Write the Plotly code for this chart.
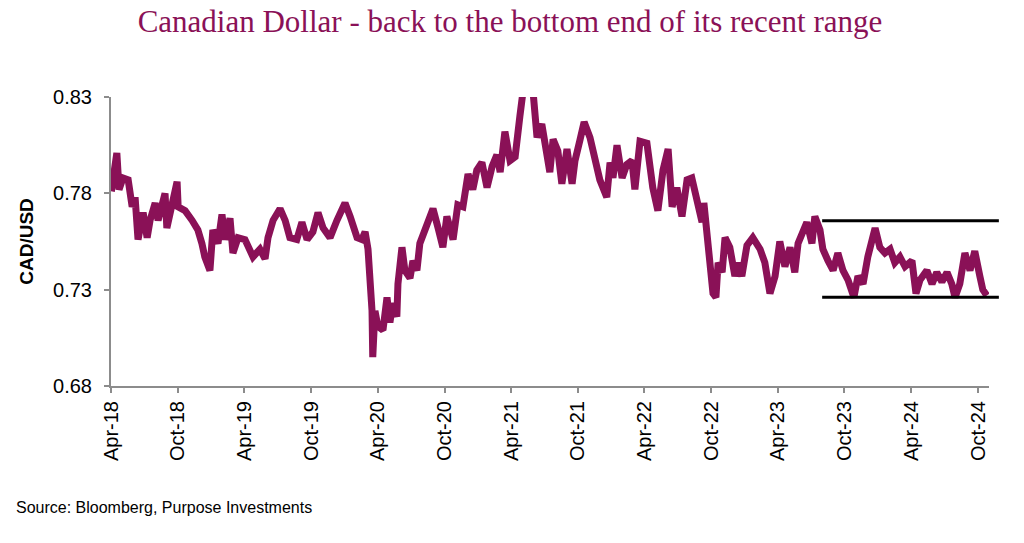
import plotly.graph_objects as go
import pandas as pd

dates = [
    "2018-04-02", "2018-04-09", "2018-04-17", "2018-04-23", "2018-05-04", "2018-05-18", "2018-05-29",
    "2018-06-06", "2018-06-14", "2018-06-28", "2018-07-09", "2018-07-17", "2018-07-31", "2018-08-08",
    "2018-08-27", "2018-09-01", "2018-09-15", "2018-09-29", "2018-10-02", "2018-10-21", "2018-11-09",
    "2018-11-25", "2018-12-06", "2018-12-14", "2018-12-28", "2019-01-05", "2019-01-19", "2019-01-30",
    "2019-02-07", "2019-02-21", "2019-03-01", "2019-03-15", "2019-04-03", "2019-04-08", "2019-04-25",
    "2019-05-14", "2019-05-28", "2019-06-05", "2019-06-19", "2019-07-08", "2019-07-22", "2019-08-04",
    "2019-08-23", "2019-09-06", "2019-09-20", "2019-10-06", "2019-10-20", "2019-11-03", "2019-11-22",
    "2019-12-11", "2020-01-02", "2020-01-16", "2020-02-04", "2020-02-17", "2020-02-26", "2020-03-05",
    "2020-03-10", "2020-03-16", "2020-03-18", "2020-03-24", "2020-04-01", "2020-04-15", "2020-04-26",
    "2020-05-04", "2020-05-12", "2020-05-23", "2020-05-26", "2020-06-06", "2020-06-14", "2020-06-28",
    "2020-07-06", "2020-07-17", "2020-07-25", "2020-08-08", "2020-08-30", "2020-09-13", "2020-09-26",
    "2020-10-07", "2020-10-24", "2020-11-06", "2020-11-20", "2020-12-04", "2020-12-17", "2020-12-28",
    "2021-01-11", "2021-01-25", "2021-02-08", "2021-02-21", "2021-03-02", "2021-03-15", "2021-03-29",
    "2021-04-12", "2021-04-20", "2021-04-25", "2021-05-03", "2021-05-17", "2021-05-31", "2021-06-11",
    "2021-06-24", "2021-07-03", "2021-07-16", "2021-07-25", "2021-08-07", "2021-08-18", "2021-09-01",
    "2021-09-15", "2021-09-23", "2021-10-07", "2021-10-18", "2021-11-03", "2021-11-17", "2021-11-30",
    "2021-12-19", "2021-12-28", "2022-01-05", "2022-01-16", "2022-01-30", "2022-02-12", "2022-02-26",
    "2022-03-06", "2022-03-20", "2022-04-08", "2022-04-24", "2022-05-08", "2022-05-22", "2022-06-05",
    "2022-06-16", "2022-06-29", "2022-07-13", "2022-07-27", "2022-08-09", "2022-08-23", "2022-09-06",
    "2022-09-11", "2022-09-19", "2022-09-28", "2022-10-06", "2022-10-14", "2022-10-20", "2022-10-31",
    "2022-11-08", "2022-11-21", "2022-12-05", "2022-12-13", "2022-12-24", "2023-01-07", "2023-01-23",
    "2023-02-12", "2023-02-25", "2023-03-11", "2023-03-25", "2023-04-07", "2023-04-21", "2023-05-05",
    "2023-05-18", "2023-05-27", "2023-06-09", "2023-06-20", "2023-07-04", "2023-07-12", "2023-07-26",
    "2023-08-03", "2023-08-17", "2023-08-31", "2023-09-13", "2023-09-27", "2023-10-11", "2023-10-27",
    "2023-11-07", "2023-11-21", "2023-12-04", "2023-12-24", "2024-01-06", "2024-01-20", "2024-02-03",
    "2024-02-16", "2024-03-01", "2024-03-15", "2024-04-03", "2024-04-14", "2024-04-25", "2024-05-14",
    "2024-05-28", "2024-06-10", "2024-06-24", "2024-07-08", "2024-07-21", "2024-07-30", "2024-08-12",
    "2024-08-26", "2024-09-09", "2024-09-22", "2024-10-06", "2024-10-14", "2024-10-25",
]

cad_usd = [
    0.781, 0.790, 0.801, 0.782, 0.788, 0.787, 0.773,
    0.778, 0.756, 0.770, 0.757, 0.766, 0.775, 0.766,
    0.780, 0.762, 0.775, 0.786, 0.773, 0.771, 0.766,
    0.761, 0.754, 0.747, 0.740, 0.761, 0.754, 0.769,
    0.756, 0.767, 0.749, 0.757, 0.756, 0.754, 0.747,
    0.751, 0.746, 0.757, 0.766, 0.772, 0.766, 0.757,
    0.756, 0.765, 0.756, 0.760, 0.770, 0.762, 0.757,
    0.766, 0.775, 0.768, 0.757, 0.756, 0.760, 0.751,
    0.740, 0.719, 0.695, 0.719, 0.711, 0.709, 0.726,
    0.713, 0.723, 0.716, 0.733, 0.752, 0.740, 0.736,
    0.745, 0.740, 0.754, 0.761, 0.772, 0.762, 0.752,
    0.768, 0.756, 0.774, 0.773, 0.790, 0.782, 0.792,
    0.796, 0.783, 0.794, 0.800, 0.791, 0.812, 0.797,
    0.799, 0.818, 0.820, 0.832, 0.834, 0.833, 0.809,
    0.816, 0.804, 0.791, 0.808, 0.802, 0.785, 0.803,
    0.785, 0.797, 0.808, 0.817, 0.809, 0.799, 0.787,
    0.778, 0.796, 0.788, 0.805, 0.788, 0.795, 0.797,
    0.782, 0.807, 0.806, 0.783, 0.771, 0.792, 0.803,
    0.773, 0.783, 0.768, 0.787, 0.788, 0.778, 0.765,
    0.775, 0.762, 0.744, 0.728, 0.726, 0.744, 0.739,
    0.757, 0.752, 0.737, 0.744, 0.737, 0.753, 0.757,
    0.751, 0.744, 0.728, 0.737, 0.755, 0.742, 0.752,
    0.739, 0.754, 0.759, 0.765, 0.754, 0.768, 0.761,
    0.751, 0.745, 0.740, 0.749, 0.740, 0.735, 0.726,
    0.737, 0.733, 0.747, 0.762, 0.752, 0.749, 0.751,
    0.744, 0.747, 0.742, 0.745, 0.728, 0.735, 0.740,
    0.733, 0.739, 0.734, 0.739, 0.733, 0.726, 0.733,
    0.749, 0.740, 0.750, 0.737, 0.730, 0.727,
]

# Recent trading range
range_start = "2023-08-01"
range_end = "2024-11-27"
range_high = 0.7658
range_low = 0.7260

x_range = ["2018-04-01", "2024-10-31"]
y_range = [0.68, 0.83]
y_ticks = [0.68, 0.73, 0.78, 0.83]

title_text = "Canadian Dollar - back to the bottom end of its recent range"
source_text = "Source: Bloomberg, Purpose Investments"

MAROON = "#8A1157"
AXIS_GREY = "#8C8C8C"

fig = go.Figure()
fig.add_trace(go.Scatter(
    x=pd.to_datetime(dates), y=cad_usd, mode="lines",
    line=dict(color=MAROON, width=7), showlegend=False, hoverinfo="x+y",
))


def paper_x(d):
    t0 = pd.Timestamp(x_range[0])
    t1 = pd.Timestamp(x_range[1])
    return (pd.Timestamp(d) - t0) / (t1 - t0)


for lvl in (range_high, range_low):
    fig.add_shape(type="line", xref="paper", yref="y",
                  x0=paper_x(range_start), x1=paper_x(range_end), y0=lvl, y1=lvl,
                  line=dict(color="black", width=3), layer="above")

fig.add_annotation(text=source_text, xref="paper", yref="paper", x=-0.1105, y=-0.422,
                   xanchor="left", yanchor="middle", showarrow=False,
                   font=dict(family="Liberation Sans, Arial, sans-serif", size=16, color="black"))

fig.update_layout(
    width=1024, height=543,
    margin=dict(l=111, r=35, t=97, b=157),
    paper_bgcolor="white", plot_bgcolor="white",
    font=dict(family="Liberation Sans, Arial, sans-serif", color="black"),
    title=dict(text=title_text, x=0.498, xref="container", xanchor="center",
               y=1 - 21 / 543, yref="container", yanchor="middle",
               font=dict(family="Liberation Serif, Times New Roman, serif", size=31, color=MAROON)),
)

fig.update_xaxes(
    type="date", range=x_range, tick0="2018-04-01", dtick="M6", tickformat="%b-%y",
    tickangle=-90, ticks="outside", ticklen=5, tickwidth=2, tickcolor=AXIS_GREY,
    showline=True, linecolor=AXIS_GREY, linewidth=2, showgrid=False, zeroline=False,
    tickfont=dict(size=20, color="black"),
)
fig.update_yaxes(
    range=y_range, tickvals=y_ticks, tickformat=".2f",
    ticks="outside", ticklen=5, tickwidth=2, tickcolor=AXIS_GREY, ticklabelstandoff=8,
    showline=True, linecolor=AXIS_GREY, linewidth=2, showgrid=False, zeroline=False,
    tickfont=dict(size=20, color="black"),
    title=dict(text="<b>CAD/USD</b>", standoff=14, font=dict(size=19, color="black")),
)

fig.write_html("out.html")
